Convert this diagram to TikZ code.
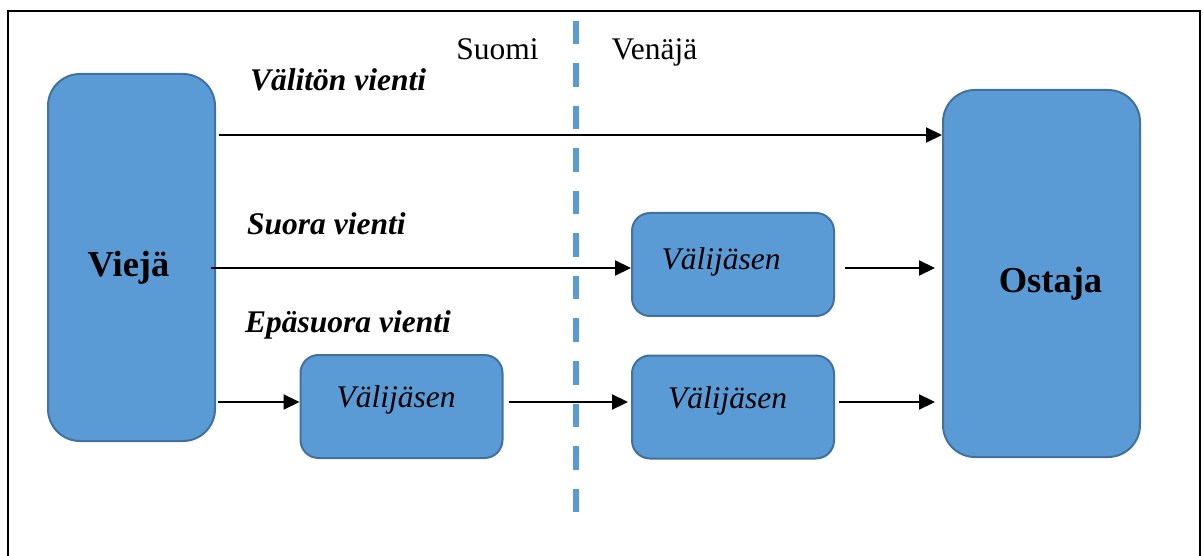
\documentclass[tikz,border=0pt]{standalone}
\usepackage{fontspec}
\setmainfont{Liberation Serif}
\usetikzlibrary{arrows.meta}
\definecolor{boxfill}{HTML}{5B9BD5}
\definecolor{boxline}{HTML}{41719C}
\begin{document}
\begin{tikzpicture}[x=1pt,y=-1pt,
  box/.style={draw=boxline,fill=boxfill,line width=2pt,inner sep=0pt,rectangle},
  bigbox/.style={box,rounded corners=32pt},
  smallbox/.style={box,rounded corners=18pt,minimum width=202pt,minimum height=103pt},
  lbl/.style={inner sep=0pt,anchor=base,font=\fontsize{31.5}{36}\selectfont},
  biglbl/.style={inner sep=0pt,anchor=base,font=\fontsize{36.5}{40}\selectfont\bfseries},
  arr/.style={line width=2.2pt,-{Triangle[length=16pt,width=15pt]}},
  border/.style={draw=black,line width=2.5pt},
  divider/.style={draw=boxfill,line width=6pt,dash pattern=on 23.5pt off 19pt}
]
\useasboundingbox (0,0) rectangle (1203,556);
% frame
\draw[border] (8,558) -- (8,11) -- (1200,11) -- (1200,558);
% divider
\draw[divider] (576,21) -- (576,514);
% boxes
\node[bigbox,minimum width=167pt,minimum height=367pt] (vieja) at (131.5,257.5) {};
\node[bigbox,minimum width=197pt,minimum height=367pt] (ostaja) at (1041.5,273.5) {};
\node[smallbox] (v1) at (733,264.5) {};
\node[smallbox] (v2) at (733,407) {};
\node[smallbox] (v0) at (401.5,406.5) {};
% box labels
\node[biglbl] (tv) at (128.5,277) {Viejä};
\node[biglbl] (to) at (1050.5,293) {Ostaja};
\node[lbl,font=\fontsize{31.5}{36}\selectfont\itshape] (t1) at (721,270) {Välijäsen};
\node[lbl,font=\fontsize{31.5}{36}\selectfont\itshape] (t2) at (727.5,408) {Välijäsen};
\node[lbl,font=\fontsize{31.5}{36}\selectfont\itshape] (t0) at (396,407) {Välijäsen};
% other labels
\node[lbl] (suomi) at (497.5,60) {Suomi};
\node[lbl] (venaja) at (654.5,60) {Venäjä};
\node[lbl,anchor=base west,font=\fontsize{31.5}{36}\selectfont\bfseries\itshape] (l1) at (250,91) {Välitön vienti};
\node[lbl,anchor=base west,font=\fontsize{31.5}{36}\selectfont\bfseries\itshape] (l2) at (247,235) {Suora vienti};
\node[lbl,anchor=base west,font=\fontsize{31.5}{36}\selectfont\bfseries\itshape] (l3) at (245,332) {Epäsuora vienti};
% arrow rows
\coordinate (r1) at (0,135);
\coordinate (r2) at (0,268);
\coordinate (r3) at (0,402);
\draw[arr] ([xshift=3pt]vieja.east |- r1) -- (ostaja.west |- r1);
\draw[arr] ([xshift=-5pt]vieja.east |- r2) -- (v1.west |- r2);
\draw[arr] ([xshift=10pt]v1.east |- r2) -- ([xshift=-7pt]ostaja.west |- r2);
\draw[arr] ([xshift=2pt]vieja.east |- r3) -- (v0.west |- r3);
\draw[arr] ([xshift=5pt]v0.east |- r3) -- ([xshift=-3pt]v2.west |- r3);
\draw[arr] ([xshift=4pt]v2.east |- r3) -- ([xshift=-7pt]ostaja.west |- r3);
\end{tikzpicture}
\end{document}
